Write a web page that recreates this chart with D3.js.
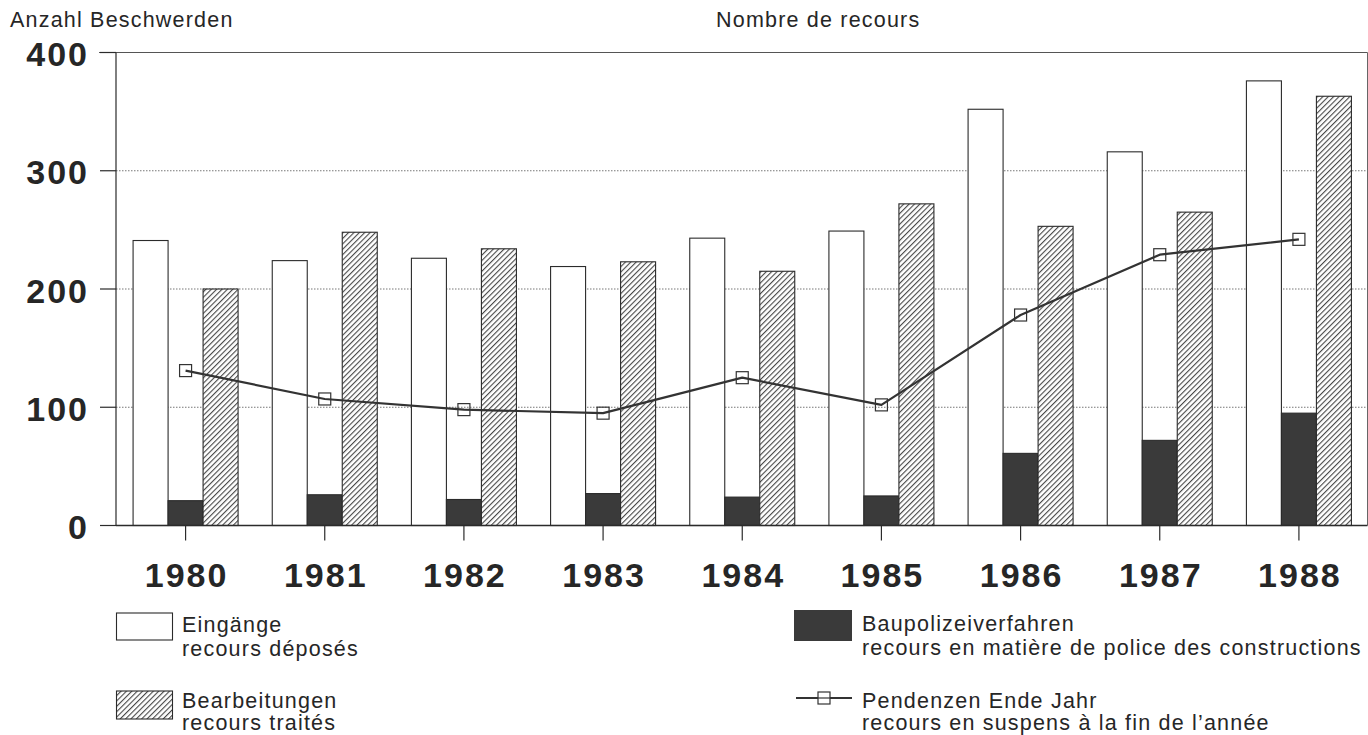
<!DOCTYPE html>
<html>
<head>
<meta charset="utf-8">
<script src="https://cdn.jsdelivr.net/npm/d3@7"></script>
<style>
  html, body { margin: 0; padding: 0; background: #fff; }
  svg { display: block; }
  text { font-family: "Liberation Sans", Arial, Helvetica, sans-serif; fill: #262626; }
</style>
</head>
<body>
<svg id="chart" width="1368" height="735"></svg>
<script>
// Beschwerden pro Jahr / recours par année
const years = ["1980", "1981", "1982", "1983", "1984", "1985", "1986", "1987", "1988"];
const eingaenge = [241, 224, 226, 219, 243, 249, 352, 316, 376];      // recours déposés
const baupolizei = [21, 26, 22, 27, 24, 25, 61, 72, 95];              // police des constructions
const bearbeitungen = [200, 248, 234, 223, 215, 272, 253, 265, 363];  // recours traités
const pendenzen = [131, 107, 98, 95, 125, 102, 178, 229, 242];        // en suspens fin d'année
const yTicks = [0, 100, 200, 300, 400];

const ink = "#2b2b2b";
const darkFill = "#3a3a3a";

const svg = d3.select("#chart");

// hatching for the "Bearbeitungen" bars
const hatchStep = 3.8;
const defs = svg.append("defs");
defs.append("pattern")
  .attr("id", "hatch")
  .attr("patternUnits", "userSpaceOnUse")
  .attr("width", hatchStep).attr("height", hatchStep)
  .attr("patternTransform", "rotate(45)")
  .call(p => {
    p.append("rect").attr("width", hatchStep).attr("height", hatchStep).attr("fill", "#fff");
    p.append("line").attr("x1", 0.6).attr("y1", 0).attr("x2", 0.6).attr("y2", hatchStep)
      .attr("stroke", "#333").attr("stroke-width", 1);
  });

const plotLeft = 116, plotRight = 1367.5, plotTop = 52.5, plotBottom = 525.5;

const x = d3.scaleBand().domain(years).range([plotLeft, plotRight + 1]);
const sub = d3.scaleBand().domain(["e", "b", "h"]).range([-52.5, 52.5]);
const y = d3.scaleLinear().domain([0, 400]).range([plotBottom, plotTop]);
const cx = yr => x(yr) + x.bandwidth() / 2;

// dotted grid lines
svg.append("g").selectAll("line")
  .data(yTicks.filter(t => t > 0 && t < 400))
  .join("line")
  .attr("x1", plotLeft).attr("x2", plotRight)
  .attr("y1", d => y(d)).attr("y2", d => y(d))
  .attr("stroke", "#777").attr("stroke-width", 1)
  .attr("stroke-dasharray", "1.5,1.5");

// top frame line and right edge
svg.append("line").attr("x1", 99).attr("x2", plotRight)
  .attr("y1", y(400)).attr("y2", y(400))
  .attr("stroke", "#555").attr("stroke-width", 1.2);
svg.append("line").attr("x1", plotRight).attr("x2", plotRight)
  .attr("y1", y(400)).attr("y2", y(0))
  .attr("stroke", "#666").attr("stroke-width", 1);

// bars
const bars = svg.append("g");
const series = [
  { key: "e", values: eingaenge, fill: "#fff" },
  { key: "b", values: baupolizei, fill: darkFill },
  { key: "h", values: bearbeitungen, fill: "url(#hatch)" }
];
series.forEach(s => {
  bars.selectAll(null)
    .data(years.map((yr, i) => ({ yr, v: s.values[i] })))
    .join("rect")
    .attr("x", d => cx(d.yr) + sub(s.key))
    .attr("width", sub.bandwidth())
    .attr("y", d => y(d.v))
    .attr("height", d => y(0) - y(d.v))
    .attr("fill", s.fill)
    .attr("stroke", ink).attr("stroke-width", 1.1);
});

// y axis
const yAxis = svg.append("g");
yAxis.append("line").attr("x1", plotLeft).attr("x2", plotLeft)
  .attr("y1", y(400)).attr("y2", y(0)).attr("stroke", ink).attr("stroke-width", 1.2);
yAxis.selectAll(".tick")
  .data(yTicks).join("line")
  .attr("x1", 100).attr("x2", plotLeft)
  .attr("y1", d => y(d)).attr("y2", d => y(d))
  .attr("stroke", ink).attr("stroke-width", 1.2);
yAxis.selectAll("text")
  .data(yTicks).join("text")
  .attr("x", 89).attr("y", d => y(d) + 13.5)
  .attr("text-anchor", "end")
  .style("font-size", "34px").style("font-weight", "bold").style("letter-spacing", "2px")
  .text(d => d);

// x axis
const xAxis = svg.append("g");
xAxis.append("line").attr("x1", plotLeft).attr("x2", plotRight)
  .attr("y1", y(0)).attr("y2", y(0)).attr("stroke", ink).attr("stroke-width", 1.4);
xAxis.selectAll(".tick")
  .data(years).join("line")
  .attr("x1", d => cx(d)).attr("x2", d => cx(d))
  .attr("y1", y(0)).attr("y2", y(0) + 15)
  .attr("stroke", ink).attr("stroke-width", 1.2);
xAxis.selectAll("text")
  .data(years).join("text")
  .attr("x", d => cx(d) + 1).attr("y", y(0) + 61.5)
  .attr("text-anchor", "middle")
  .style("font-size", "34px").style("font-weight", "bold").style("letter-spacing", "2px")
  .text(d => d);

// Pendenzen line with open square markers
const lineGen = d3.line()
  .x((d, i) => cx(years[i]))
  .y(d => y(d));
svg.append("path")
  .datum(pendenzen)
  .attr("d", lineGen)
  .attr("fill", "none").attr("stroke", "#333").attr("stroke-width", 2.2)
  .attr("stroke-linejoin", "round");
svg.append("g").selectAll("rect")
  .data(pendenzen).join("rect")
  .attr("x", (d, i) => cx(years[i]) - 6)
  .attr("y", d => y(d) - 6)
  .attr("width", 12).attr("height", 12)
  .attr("fill", "none").attr("stroke", "#333").attr("stroke-width", 1.2);

// headings
const small = sel => sel.style("font-size", "21.5px").style("letter-spacing", "1.2px");
svg.append("text").attr("x", 10).attr("y", 27).call(small).text("Anzahl Beschwerden");
svg.append("text").attr("x", 716).attr("y", 27).call(small).text("Nombre de recours");

// legend
const lg = svg.append("g");
lg.append("rect").attr("x", 116.5).attr("y", 613).attr("width", 56).attr("height", 27)
  .attr("fill", "#fff").attr("stroke", ink).attr("stroke-width", 1.1);
lg.append("rect").attr("x", 116.5).attr("y", 691).attr("width", 56).attr("height", 28)
  .attr("fill", "url(#hatch)").attr("stroke", ink).attr("stroke-width", 1.1);
lg.append("rect").attr("x", 794).attr("y", 610).attr("width", 58).attr("height", 31)
  .attr("fill", darkFill).attr("stroke", "none");
lg.append("line").attr("x1", 796).attr("x2", 852).attr("y1", 698).attr("y2", 698)
  .attr("stroke", "#333").attr("stroke-width", 2);
lg.append("rect").attr("x", 818).attr("y", 692).attr("width", 12).attr("height", 12)
  .attr("fill", "#fff").attr("stroke", "#333").attr("stroke-width", 1.2);
lg.append("line").attr("x1", 818).attr("x2", 830).attr("y1", 698).attr("y2", 698)
  .attr("stroke", "#333").attr("stroke-width", 1.2);

const legendText = [
  { x: 182, y: 632, t: "Eingänge" },
  { x: 182, y: 656, t: "recours déposés" },
  { x: 182, y: 708, t: "Bearbeitungen" },
  { x: 182, y: 730, t: "recours traités" },
  { x: 862, y: 631, t: "Baupolizeiverfahren" },
  { x: 862, y: 655, t: "recours en matière de police des constructions" },
  { x: 862, y: 708, t: "Pendenzen Ende Jahr" },
  { x: 862, y: 730, t: "recours en suspens à la fin de l’année" }
];
lg.selectAll("text.lt").data(legendText).join("text")
  .attr("x", d => d.x).attr("y", d => d.y).call(small).text(d => d.t);
</script>
</body>
</html>
